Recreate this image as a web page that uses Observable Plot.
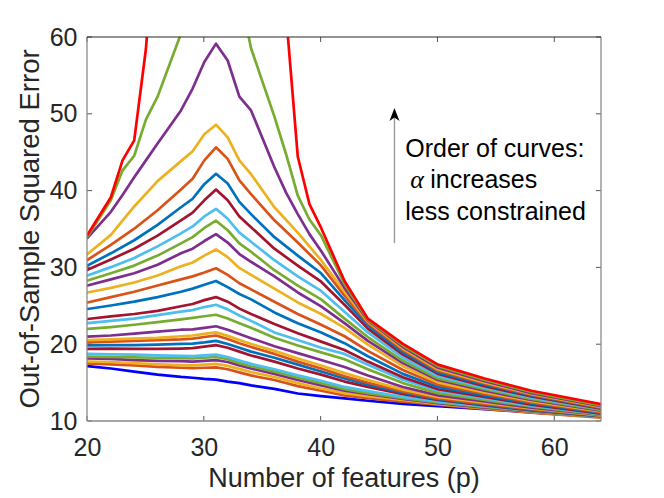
<!DOCTYPE html>
<html><head><meta charset="utf-8">
<script src="https://cdn.jsdelivr.net/npm/d3@7"></script>
<script src="https://cdn.jsdelivr.net/npm/@observablehq/plot@0.6"></script>
<style>
html,body{margin:0;padding:0;background:#fff;}
#chart{width:664px;height:498px;overflow:hidden;}
</style></head><body><div id="chart"></div>
<script>
// ---------- data ----------
const pFeatures = [20,22,23,24,25,26,28,29,30,31,32,33,34,36,37,38,39,40,42,44,47,50,54,58,64];

const curveColors = [
  "#0000FF","#D95319","#EDB120","#7E2F8E","#77AC30","#4DBEEE","#A2142F",
  "#0072BD","#D95319","#EDB120","#7E2F8E","#77AC30","#4DBEEE","#A2142F",
  "#0072BD","#D95319","#EDB120","#7E2F8E","#77AC30","#4DBEEE","#A2142F",
  "#0072BD","#D95319","#EDB120","#7E2F8E","#77AC30","#FF0000"
];

// one row per curve (alpha increasing, bottom to top); null = not sampled
const curveErrors = [
  [17.2,16.9,null,16.5,null,16.1,15.8,15.7,15.55,15.45,15.2,15.0,14.7,14.25,null,13.65,null,13.3,13.0,12.7,12.3,12.0,11.6,11.2,10.6],
  [17.55,17.45,null,17.3,null,17.1,17.0,16.95,17.0,17.05,16.8,16.4,16.0,15.4,null,14.6,null,14.0,13.4,13.05,12.6,12.2,11.65,11.15,10.5],
  [17.8,17.75,null,17.6,null,17.45,17.35,17.3,17.4,17.5,17.25,16.85,16.45,15.8,null,15.0,null,14.3,13.7,13.3,12.8,12.3,11.75,11.25,10.55],
  [18.2,18.15,null,18.0,null,17.9,17.85,17.8,17.9,18.0,17.75,17.3,16.9,16.2,null,15.4,null,14.7,14.0,13.55,12.95,12.4,11.8,11.3,10.6],
  [18.45,18.4,null,18.35,null,18.3,18.25,18.2,18.3,18.4,18.1,17.6,17.2,16.5,null,15.7,null,15.0,14.2,13.7,13.05,12.5,11.9,11.35,10.6],
  [18.8,18.75,null,18.7,null,18.6,18.55,18.5,18.6,18.7,18.4,17.95,17.5,16.8,null,16.0,null,15.3,14.5,13.95,13.2,12.6,12.0,11.4,10.65],
  [19.45,19.5,null,19.45,null,19.45,19.5,19.55,19.75,19.95,19.6,19.1,18.6,17.8,null,16.9,null,16.1,15.2,14.5,13.55,12.8,12.1,11.45,10.7],
  [19.9,19.95,null,19.95,null,20.0,20.1,20.15,20.3,20.5,20.1,19.6,19.1,18.3,null,17.4,null,16.5,15.6,14.8,13.75,12.9,12.2,11.5,10.7],
  [20.3,20.4,null,20.5,null,20.6,20.7,20.8,21.0,21.2,20.75,20.2,19.7,18.8,null,17.8,null,16.9,15.9,15.05,13.9,13.0,12.3,11.6,10.75],
  [20.6,20.7,null,20.8,null,20.9,21.1,21.2,21.4,21.6,21.15,20.6,20.1,19.2,null,18.2,null,17.3,16.3,15.4,14.15,13.2,12.45,11.7,10.8],
  [21.05,21.2,null,21.45,null,21.7,21.95,22.0,22.2,22.4,21.95,21.4,20.85,19.8,null,18.9,null,18.0,17.1,16.0,14.5,13.4,12.6,11.8,10.85],
  [22.05,22.3,null,22.6,null,22.95,23.3,23.5,23.7,23.9,23.4,22.8,22.2,20.9,null,19.9,null,19.0,18.1,16.8,15.0,13.7,12.8,11.95,10.9],
  [22.8,23.1,null,23.4,null,23.85,24.3,24.5,24.9,25.2,24.6,23.8,23.1,21.6,null,20.6,null,19.6,18.8,17.4,15.45,14.0,13.0,12.05,10.95],
  [23.35,23.7,null,24.0,null,24.4,25.0,25.3,25.8,26.2,25.6,24.7,24.0,22.7,null,21.5,null,20.4,19.3,17.8,15.75,14.2,13.2,12.2,11.0],
  [24.65,25.1,null,25.6,null,26.2,26.9,27.3,27.8,28.3,27.5,26.6,25.9,24.2,null,22.8,null,21.6,20.2,18.5,16.2,14.5,13.4,12.35,11.1],
  [25.5,26.2,null,26.9,null,27.7,28.5,28.9,29.4,29.95,29.1,28.0,27.2,25.6,null,24.0,null,22.6,21.1,19.2,16.7,14.8,13.6,12.5,11.2],
  [26.8,27.4,null,28.1,null,29.0,30.2,30.7,31.6,32.4,31.4,30.0,29.1,27.3,null,25.5,null,24.0,22.2,20.0,17.2,15.1,13.8,12.65,11.3],
  [27.7,28.5,null,29.3,null,30.4,31.9,32.5,33.5,34.4,33.3,31.8,30.8,28.9,null,26.8,null,25.0,22.8,20.5,17.6,15.4,14.0,12.8,11.4],
  [28.35,29.3,null,30.3,null,31.6,33.2,34.0,35.2,36.15,34.9,33.2,32.1,29.7,null,27.7,null,25.9,23.4,21.0,17.9,15.6,14.2,12.95,11.5],
  [29.0,30.1,null,31.3,null,32.8,34.5,35.4,36.7,37.7,36.4,34.6,33.4,31.0,null,28.9,null,27.0,24.3,21.6,18.3,15.9,14.4,13.1,11.6],
  [29.75,31.1,null,32.5,null,34.2,36.2,37.2,38.8,40.2,38.8,36.7,35.3,32.5,null,30.3,null,28.2,25.2,22.1,18.7,16.2,14.6,13.25,11.65],
  [30.3,31.9,null,33.6,null,35.6,37.9,39.0,40.9,42.25,41.0,38.6,37.0,34.0,null,31.6,null,29.3,25.8,22.5,19.0,16.4,14.8,13.4,11.75],
  [31.05,33.0,null,35.1,null,37.5,40.2,41.6,44.0,45.7,44.2,41.4,39.6,36.2,null,33.3,null,30.3,26.4,22.8,19.3,16.6,14.95,13.5,11.8],
  [31.8,34.3,null,38.0,null,41.3,43.9,45.2,47.4,48.65,47.0,44.0,42.2,37.9,null,34.6,null,31.0,26.9,23.0,19.5,16.8,15.1,13.6,11.9],
  [33.9,37.3,39.5,41.8,44.0,46.2,50.5,53.35,56.8,59.2,57.0,52.3,50.5,43.1,39.8,37.0,34.4,32.2,27.4,23.15,19.7,17.0,15.25,13.7,12.0],
  [34.1,38.8,42.7,44.6,49.3,52.3,60.5,68,80,95,82,66,58.6,49.7,44.8,39.4,36.3,34.2,27.9,23.25,19.9,17.2,15.4,13.85,12.1],
  [34.3,39.2,44.0,46.6,58.5,78,120,150,200,240,200,150,115,72,63,44.5,38.3,35.2,28.3,23.4,20.1,17.4,15.6,14.0,12.25]
];

const xTicks = [20,30,40,50,60];
const yTicks = [10,20,30,40,50,60];
const xDomain = [20,64];
const yDomain = [10,60];
const xLabel = "Number of features (p)";
const yLabel = "Out-of-Sample Squared Error";
const noteLine1 = "Order of curves:";
const noteSymbol = "\u03B1";
const noteLine2 = "increases";
const noteLine3 = "less constrained";
const noteAnchor = {p: 47.24, err: 44.43};
const arrowSpec = {p: 46.32, from: 33.17, to: 50.74};

// ---------- build table ----------
const rows = [];
curveErrors.forEach((vals, k) => {
  vals.forEach((v, j) => {
    if (v != null) rows.push({curve: k, p: pFeatures[j], err: v, color: curveColors[k]});
  });
});

const FONT = "'Liberation Sans', Arial, Helvetica, sans-serif";
const NS = "http://www.w3.org/2000/svg";
function el(tag, attrs, text) {
  const e = document.createElementNS(NS, tag);
  for (const k in attrs) e.setAttribute(k, attrs[k]);
  if (text != null) e.textContent = text;
  return e;
}

function boxMark(index, scales) {
  const {x, y} = scales;
  const g = el("g", {});
  const L = x(xDomain[0]), R = x(xDomain[1]), T = y(yDomain[1]), B = y(yDomain[0]);
  const tk = 5;
  for (const t of xTicks) {
    const xp = x(t);
    g.append(el("line", {x1: xp, x2: xp, y1: B, y2: B - tk, stroke: "#555", "stroke-width": 1}));
    g.append(el("line", {x1: xp, x2: xp, y1: T, y2: T + tk, stroke: "#555", "stroke-width": 1}));
  }
  for (const t of yTicks) {
    const yp = y(t);
    g.append(el("line", {x1: L, x2: L + tk, y1: yp, y2: yp, stroke: "#555", "stroke-width": 1}));
    g.append(el("line", {x1: R, x2: R - tk, y1: yp, y2: yp, stroke: "#555", "stroke-width": 1}));
  }
  g.append(el("line", {x1: L, x2: L, y1: T, y2: B, stroke: "#8a8a8a", "stroke-width": 1.3}));
  g.append(el("line", {x1: L, x2: R, y1: B, y2: B, stroke: "#8a8a8a", "stroke-width": 1.3}));
  g.append(el("line", {x1: R, x2: R, y1: T, y2: B, stroke: "#8a8a8a", "stroke-width": 1.3}));
  g.append(el("line", {x1: L, x2: R, y1: T, y2: T, stroke: "#262626", "stroke-width": 1.1}));
  return g;
}

function labelMark(index, scales, values, dims) {
  const {width, height, marginLeft, marginRight, marginTop, marginBottom} = dims;
  const g = el("g", {"font-family": FONT, fill: "#262626"});
  const cx = (marginLeft + width - marginRight) / 2;
  const cy = (marginTop + height - marginBottom) / 2;
  g.append(el("text", {x: cx, y: height - 11.5, "text-anchor": "middle", "font-size": 27}, xLabel));
  g.append(el("text", {transform: `translate(38.5,${cy}) rotate(-90)`, "text-anchor": "middle", "font-size": 27.5}, yLabel));
  return g;
}

function noteMark(index, scales) {
  const {x, y} = scales;
  const g = el("g", {"text-anchor": "start"});
  const tx = x(noteAnchor.p), ty = y(noteAnchor.err), lh = 31.7;
  const t1 = el("text", {x: tx, y: ty, "text-anchor": "start", "font-family": FONT, "font-size": 25, fill: "#000"}, noteLine1);
  const t2a = el("text", {x: tx + 5, y: ty + lh, "text-anchor": "start", "font-family": "'Liberation Serif','DejaVu Serif',serif", "font-style": "italic", "font-size": 26, fill: "#000"}, noteSymbol);
  const t2b = el("text", {x: tx + 25, y: ty + lh, "text-anchor": "start", "font-family": FONT, "font-size": 25, fill: "#000"}, noteLine2);
  const t3 = el("text", {x: tx, y: ty + 2 * lh, "text-anchor": "start", "font-family": FONT, "font-size": 25, fill: "#000"}, noteLine3);
  g.append(t1, t2a, t2b, t3);
  const ax = x(arrowSpec.p), ay0 = y(arrowSpec.from), ay1 = y(arrowSpec.to);
  g.append(el("line", {x1: ax, x2: ax, y1: ay0, y2: ay1 + 9, stroke: "#9a9a9a", "stroke-width": 1.4}));
  g.append(el("path", {d: `M${ax},${ay1} L${ax - 5},${ay1 + 13} L${ax},${ay1 + 9.5} L${ax + 5},${ay1 + 13} Z`, fill: "#000"}));
  return g;
}

const chart = Plot.plot({
  width: 664,
  height: 498,
  marginLeft: 87,
  marginRight: 63,
  marginTop: 37,
  marginBottom: 77,
  style: {fontFamily: FONT, background: "#fff", overflow: "visible"},
  x: {domain: xDomain, axis: null},
  y: {domain: yDomain, axis: null},
  color: {type: "identity"},
  marks: [
    Plot.line(rows, {x: "p", y: "err", z: "curve", stroke: "color", strokeWidth: 2.7, strokeLinejoin: "round", strokeLinecap: "round", clip: true}),
    boxMark,
    Plot.text(yTicks, {x: xDomain[0], y: d => d, text: d => String(d), textAnchor: "end", lineAnchor: "middle", dx: -10, fontSize: 25, fill: "#262626"}),
    Plot.text(xTicks, {x: d => d, y: yDomain[0], text: d => String(d), textAnchor: "middle", lineAnchor: "top", dy: 17, fontSize: 25, fill: "#262626"}),
    labelMark,
    noteMark
  ]
});
document.getElementById("chart").appendChild(chart);
</script>
</body></html>
